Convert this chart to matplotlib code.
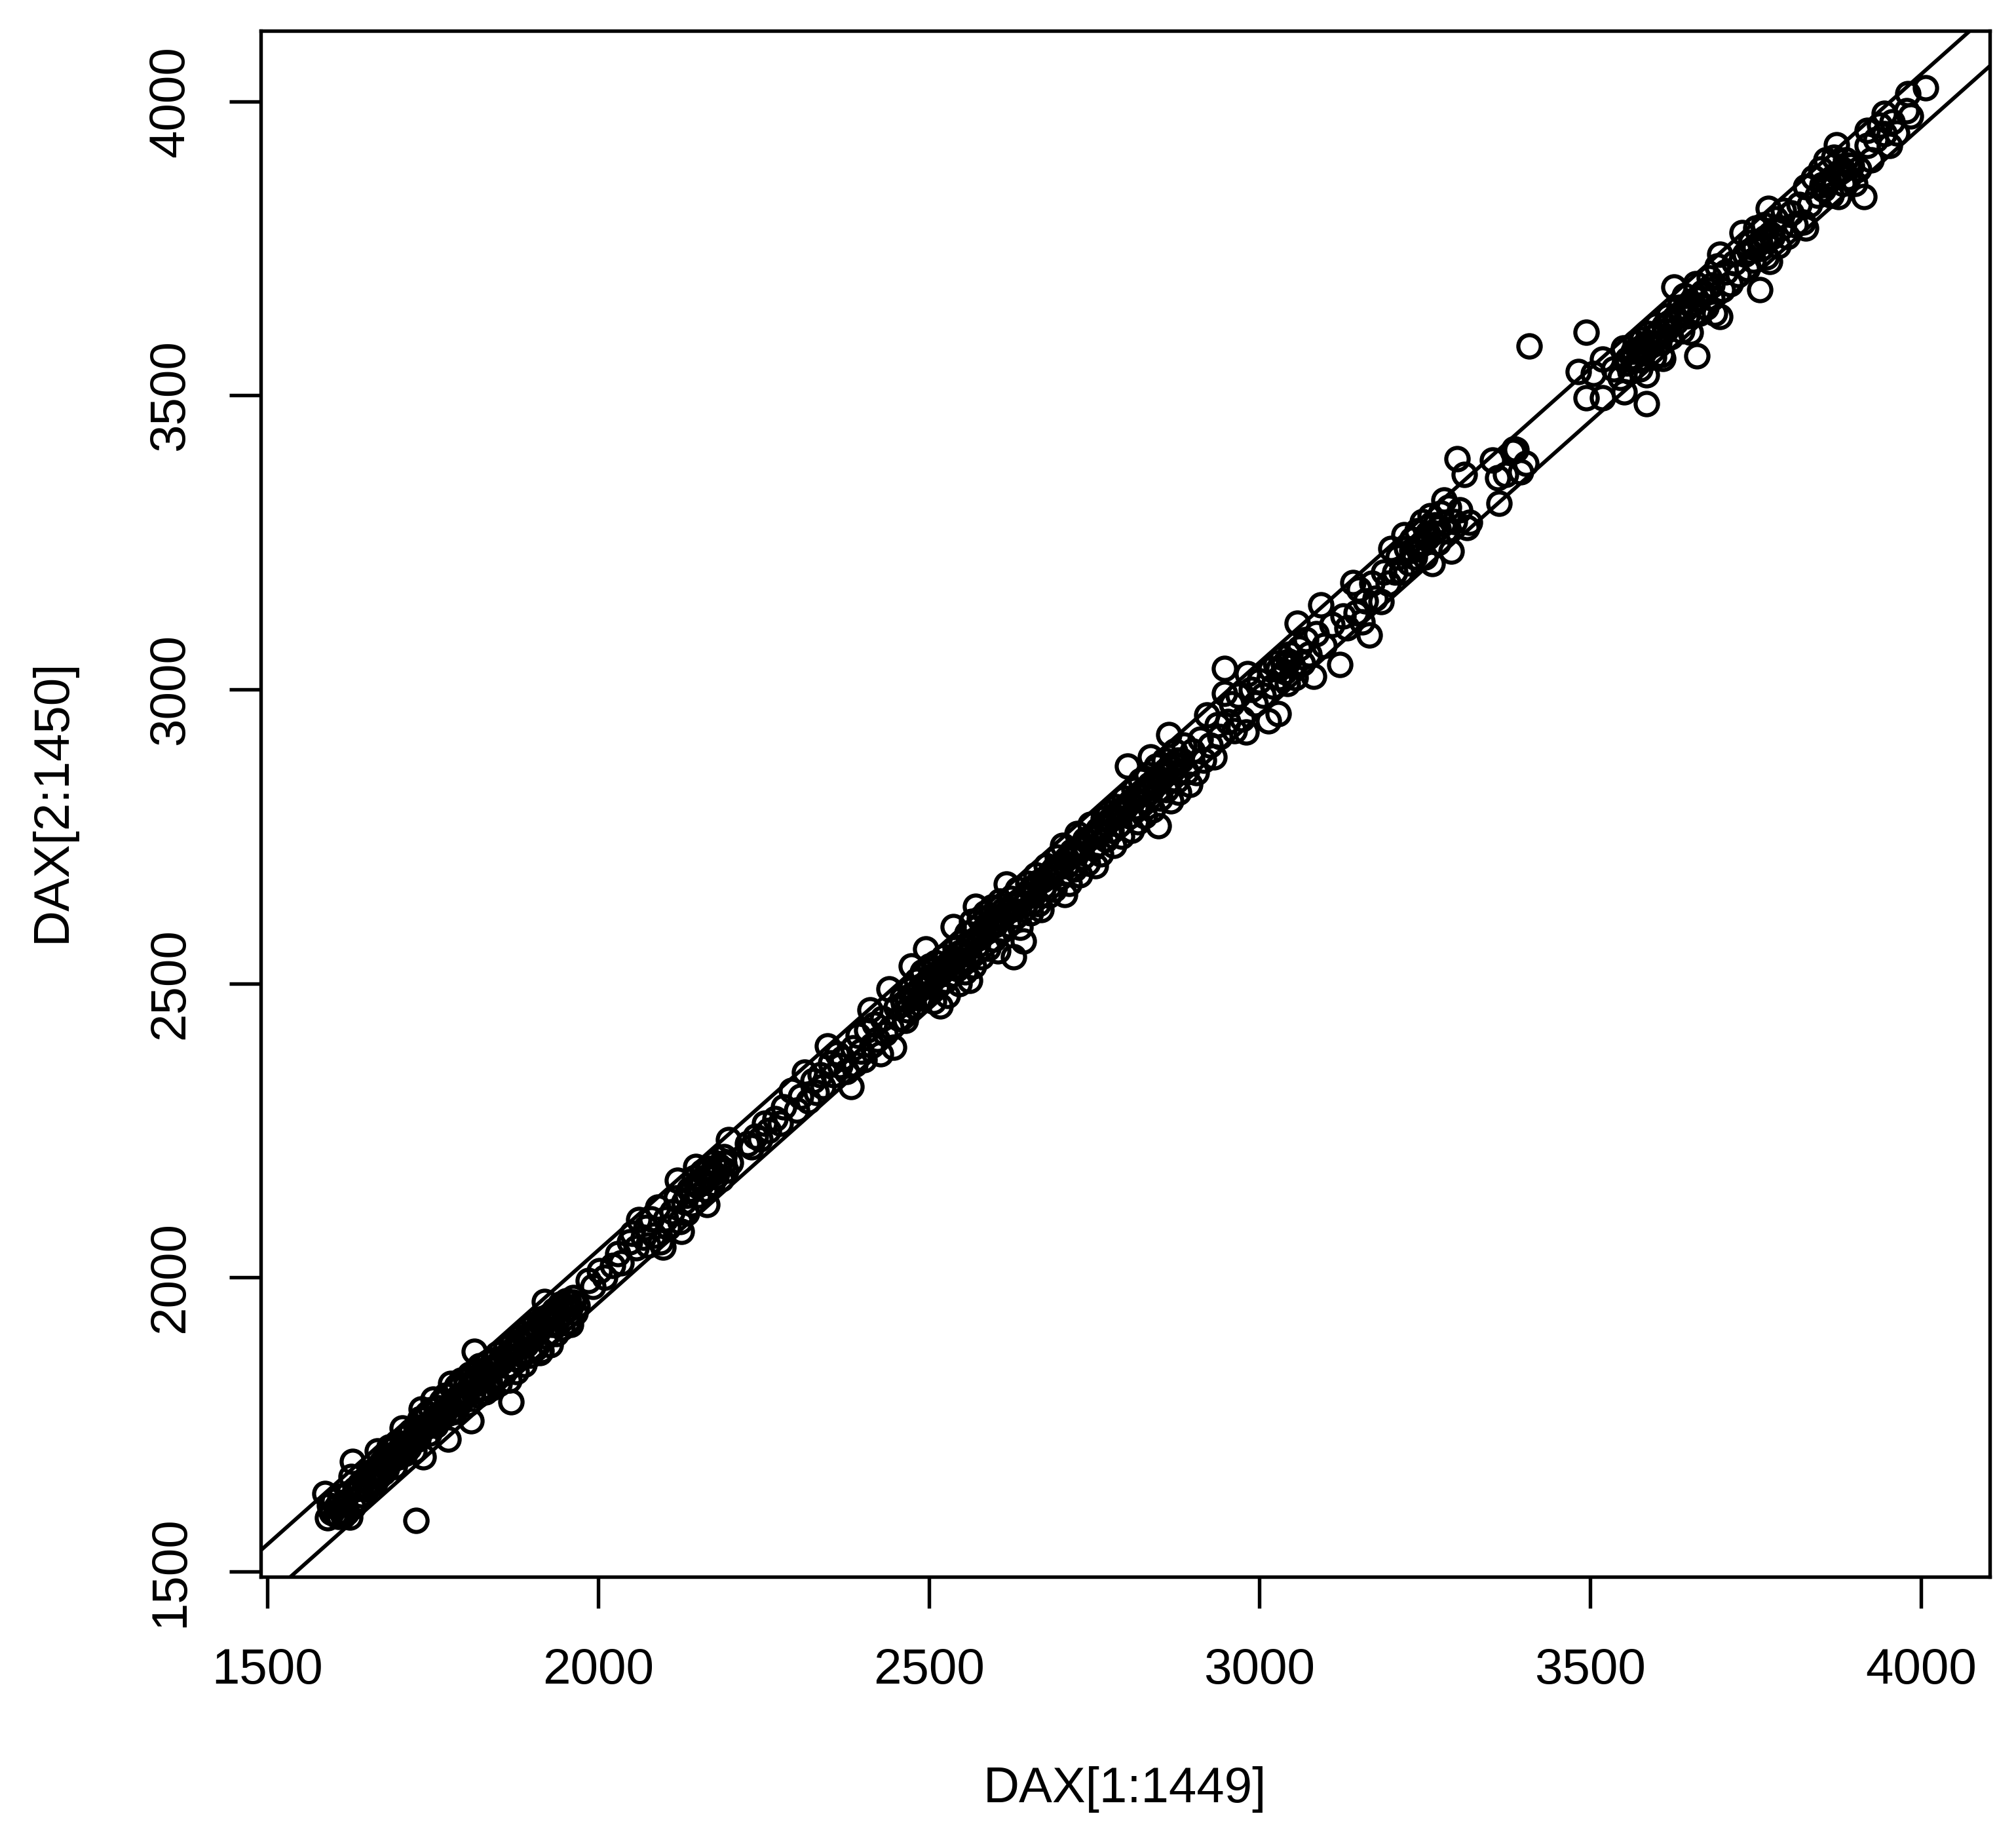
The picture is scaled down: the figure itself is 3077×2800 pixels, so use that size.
import matplotlib
matplotlib.use("Agg")
import matplotlib.pyplot as plt
import numpy as np

W, H = 3077, 2800

# values, (DAX[t], DAX[t+1]), by stretch of the index
seg_1600 = [(1587,1633),(1591,1591),(1594,1612),(1597,1600),(1600,1620),(1603,1597),(1605,1610),(1608,1593),
            (1610,1628),(1612,1603),(1615,1595),(1617,1618),(1620,1600),(1622,1632),(1625,1592),(1627,1661),
            (1629,1687),(1630,1610),(1633,1640),(1636,1622),(1640,1648),(1643,1630),(1646,1655),(1650,1640),
            (1653,1668),(1656,1650),(1660,1672),(1662,1650),(1666,1705),(1668,1662),(1672,1685),(1675,1668),
            (1678,1695),(1680,1675),(1684,1712),(1687,1688),(1690,1708),(1692,1678),(1696,1720),(1699,1695),
            (1702,1712),(1704,1744),(1708,1700),(1711,1730),(1714,1710),(1717,1738),(1720,1722),(1722,1705),
            (1725,1745),(1725,1587),(1728,1725),(1731,1760),(1733,1776),(1736,1695),(1739,1745),(1742,1768),
            (1745,1735),(1748,1775),(1751,1793),(1754,1748),(1757,1778),(1760,1758),(1763,1790),(1766,1765),
            (1769,1800),(1773,1725),(1775,1770),(1777,1820),(1780,1790),(1783,1772),(1786,1815),(1790,1785)]
seg_1800 = [(1793,1825),(1796,1795),(1800,1818),(1803,1785),(1806,1835),(1808,1756),(1811,1805),(1813,1874),
            (1815,1830),(1818,1800),(1821,1850),(1824,1812),(1827,1842),(1830,1805),(1833,1855),(1836,1825),
            (1839,1812),(1842,1860),(1845,1832),(1848,1870),(1851,1820),(1854,1855),(1857,1838),(1860,1880),
            (1863,1850),(1865,1825),(1868,1789),(1870,1890),(1873,1862),(1876,1840),(1879,1898),(1882,1870),
            (1885,1905),(1888,1852),(1891,1885),(1894,1912),(1897,1868),(1900,1895),(1903,1920),(1906,1880),
            (1909,1908),(1912,1872),(1914,1876),(1916,1930),(1919,1959),(1922,1900),(1925,1935),(1928,1885),
            (1931,1920),(1934,1945),(1937,1905),(1940,1930),(1943,1955),(1946,1915),(1949,1940),(1952,1960),
            (1955,1925),(1958,1948),(1959,1920),(1962,1958),(1965,1940),(1968,1952)]
seg_2000 = [(1985,1995),(1992,1985),(2002,2012),(2010,2000),(2022,2020),(2030,2040),(2035,2025),(2048,2060),
            (2052,2075),(2058,2050),(2062,2098),(2068,2068),(2072,2085),(2075,2055),(2080,2100),(2084,2072),
            (2090,2120),(2094,2060),(2098,2052),(2102,2100),(2106,2085),(2112,2112),(2118,2135),(2120,2165),
            (2124,2095),(2126,2078),(2130,2128),(2134,2110),(2138,2150),(2142,2125),(2146,2170),(2148,2189),
            (2152,2140),(2155,2165),(2158,2180),(2162,2150),(2165,2124),(2168,2185),(2172,2160),(2175,2195),
            (2178,2172),(2182,2190),(2186,2168),(2190,2205),(2193,2182),(2197,2234),(2200,2195),(2226,2228),
            (2232,2222),(2238,2240),(2245,2235),(2252,2262),(2258,2250),(2268,2270),(2275,2262),(2280,2290)]
seg_2300 = [(2292,2318),(2300,2285),(2306,2308),(2312,2349),(2318,2300),(2325,2335),(2330,2315),(2336,2345),
            (2340,2325),(2347,2394),(2352,2365),(2356,2345),(2362,2380),(2366,2360),(2370,2372),(2376,2350),
            (2382,2325),(2385,2390),(2388,2362),(2393,2412),(2397,2385),(2402,2370),(2406,2420),(2411,2455),
            (2414,2395),(2418,2430),(2422,2405),(2427,2380),(2430,2440),(2434,2415),(2440,2491),(2443,2425),
            (2447,2392),(2451,2460),(2455,2440),(2460,2475),(2465,2437),(2468,2455),(2472,2490),(2474,2530),
            (2478,2462),(2482,2505),(2486,2475),(2490,2520),(2493,2480),(2495,2559),(2498,2495),(2501,2530),
            (2504,2510),(2507,2470),(2510,2535),(2513,2495),(2517,2462),(2519,2520),(2522,2545),(2525,2505),
            (2528,2480),(2531,2535),(2534,2515),(2537,2596),(2540,2560),(2543,2525),(2546,2500),(2549,2570),
            (2552,2540),(2555,2520),(2558,2585),(2561,2550),(2562,2505),(2565,2605),(2568,2530),(2571,2631),
            (2574,2565),(2577,2610),(2580,2545),(2583,2585),(2586,2620),(2589,2560),(2592,2600),(2595,2630),
            (2598,2575),(2601,2612),(2604,2555),(2607,2640),(2610,2590),(2613,2625),(2617,2669),(2620,2600),
            (2624,2645),(2628,2545),(2631,2615),(2634,2660),(2638,2595),(2643,2572),(2646,2635),(2650,2670),
            (2654,2620),(2658,2650),(2662,2685),(2666,2635),(2670,2625),(2674,2665),(2678,2700),(2682,2650)]
seg_2700 = [(2686,2690),(2690,2660),(2694,2715),(2698,2680),(2702,2735),(2705,2651),(2708,2700),(2712,2670),
            (2716,2725),(2720,2695),(2724,2755),(2728,2685),(2732,2715),(2736,2745),(2740,2705),(2744,2770),
            (2748,2730),(2752,2700),(2756,2755),(2760,2720),(2764,2780),(2768,2745),(2772,2790),(2776,2760),
            (2780,2735),(2784,2800),(2788,2770),(2792,2750),(2796,2815),(2800,2870),(2803,2785),(2806,2760),
            (2810,2830),(2813,2800),(2816,2775),(2820,2845),(2823,2810),(2826,2785),(2830,2855),(2833,2825),
            (2835,2885),(2838,2795),(2841,2840),(2844,2870),(2847,2768),(2850,2815),(2853,2855),(2856,2880),
            (2859,2830),(2863,2923),(2866,2810),(2869,2865),(2872,2895),(2875,2845),(2878,2825),(2882,2880),
            (2886,2905),(2890,2860),(2895,2838),(2899,2895),(2904,2858),(2910,2915),(2915,2880),(2920,2957),
            (2925,2905),(2931,2885),(2936,2940),(2940,2920),(2947,3036),(2947,2993),(2952,2945),(2958,2975)]
seg_3000 = [(2962,2930),(2968,2990),(2974,2950),(2980,2928),(2982,3027),(2988,3000),(2994,2975),(3000,3015),
            (3006,2990),(3013,2947),(3016,3035),(3020,3005),(3024,3045),(3028,2959),(3030,3020),(3034,3055),
            (3038,3030),(3042,3010),(3046,3060),(3050,3040),(3054,3020),(3057,3112),(3060,3070),(3065,3045),
            (3070,3085),(3075,3060),(3082,3022),(3086,3095),(3093,3144),(3098,3075),(3110,3110),(3121,3042),
            (3126,3125),(3132,3105),(3141,3182),(3146,3130),(3150,3170),(3155,3115),(3160,3150),(3166,3093),
            (3170,3180),(3175,3155),(3184,3149),(3188,3200),(3195,3180),(3199,3240),(3205,3200),(3210,3225),
            (3215,3200),(3218,3263),(3222,3240),(3226,3215),(3230,3255),(3234,3225),(3238,3270),(3242,3245),
            (3246,3285),(3250,3225),(3254,3265),(3258,3295),(3261,3214),(3265,3280),(3270,3250),(3274,3300),
            (3279,3322),(3282,3270),(3286,3310),(3290,3235),(3295,3285),(3299,3392),(3303,3305),(3310,3365),
            (3314,3275),(3318,3284)]
seg_3350 = [(3352,3390),(3360,3360),(3362,3316),(3372,3365),(3383,3405),(3385,3409),(3388,3408),(3395,3370),
            (3403,3385),(3408,3584),(3482,3540),(3494,3607),(3494,3496),(3505,3537),(3519,3496),(3519,3562),
            (3535,3545),(3545,3530),(3550,3581),(3551,3506),(3555,3555),(3560,3540),(3565,3575),(3568,3590),
            (3572,3560),(3575,3545),(3578,3595),(3582,3575),(3585,3535),(3585,3486),(3588,3605),(3592,3585),
            (3596,3565),(3600,3620),(3604,3590),(3608,3570),(3610,3563),(3614,3610),(3618,3635),(3622,3600),
            (3627,3684),(3630,3625),(3634,3650),(3638,3610),(3642,3670),(3646,3635),(3651,3607),(3655,3655),
            (3659,3690),(3661,3567),(3665,3640),(3670,3675),(3675,3650),(3680,3700),(3684,3665),(3688,3640),
            (3692,3720),(3696,3634),(3696,3740),(3700,3680),(3705,3710)]
seg_3700 = [(3712,3690),(3718,3725),(3724,3705),(3730,3777),(3734,3740),(3738,3715),(3742,3760),(3746,3730),
            (3750,3785),(3756,3680),(3758,3750),(3762,3790),(3766,3735),(3769,3818),(3771,3728),(3775,3770),
            (3780,3800),(3784,3755),(3788,3785),(3792,3815),(3798,3770),(3804,3810),(3810,3790),(3816,3825),
            (3822,3795),(3826,3785),(3826,3855),(3832,3825),(3838,3870),(3843,3840),(3848,3885),(3852,3850),
            (3856,3900),(3860,3865),(3864,3840),(3868,3905),(3872,3926),(3875,3838),(3878,3880),(3882,3860),
            (3886,3900),(3890,3870),(3895,3890),(3900,3860),(3906,3885),(3914,3838),(3919,3951),(3919,3925),
            (3925,3900),(3932,3935),(3938,3960),(3945,3980),(3945,3945),(3952,3925),(3956,3965),(3963,3946),
            (3978,3984),(3980,4013),(3984,3975),(4007,4023)]
# points inside the solid stretches of the cloud
solid_low = [(1640,1642),(1648,1646),(1655,1662),(1664,1670),(1670,1672),(1682,1690),(1688,1698),(1694,1698),
             (1700,1704),(1706,1716),(1712,1720),(1718,1722),(1724,1730),(1730,1734),(1735,1744),(1741,1748),
             (1747,1752),(1752,1762),(1758,1764),(1764,1772),(1770,1776),(1776,1782),(1782,1790),(1788,1796),
             (1794,1800),(1800,1804),(1806,1814),(1812,1818),(1818,1826),(1824,1830),(1830,1834),(1836,1844),
             (1842,1846),(1848,1852),(1854,1862),(1860,1864),(1866,1874),(1872,1876),(1878,1882),(1884,1890),
             (1890,1896),(1896,1902),(1902,1906),(1908,1914),(1914,1920),(1920,1924),(1926,1932),(1932,1934),
             (1938,1942),(1944,1950),(1950,1952),(1956,1958),(1962,1966)]
solid_mid = [(2134,2140),(2142,2148),(2150,2156),(2158,2162),(2166,2172),(2174,2178),(2182,2184),(2190,2194),
             (2462,2466),(2468,2472),(2474,2480),(2480,2482),(2486,2492),(2492,2496),(2498,2504),(2504,2504),
             (2510,2516),(2516,2520),(2522,2526),(2528,2532),(2534,2540),(2540,2542),(2546,2552),(2552,2554),
             (2558,2562),(2564,2570),(2570,2574),(2576,2578),(2582,2590),(2588,2590),(2594,2600),(2600,2600),
             (2606,2612),(2612,2616),(2618,2622),(2624,2626),(2630,2636),(2636,2640),(2642,2646),(2648,2650),
             (2654,2660),(2660,2662),(2666,2672),(2672,2676),(2678,2680),(2684,2688),(2690,2696),(2696,2698),
             (2702,2706),(2708,2712),(2714,2718),(2720,2724),(2726,2730),(2732,2734),(2738,2744),(2744,2748),
             (2750,2752),(2756,2762),(2762,2766),(2768,2772),(2774,2778),(2780,2784),(2786,2790),(2792,2796),
             (2798,2802),(2804,2808),(2810,2814),(2816,2820),(2822,2826),(2828,2832),(2834,2838),(2840,2844),
             (2846,2850),(2852,2856),(2858,2862),(2864,2868),(2870,2874),(2876,2880)]
solid_high = [(3028,3034),(3036,3042),(3044,3048),(3230,3236),(3238,3242),(3246,3250),(3254,3258),(3262,3266),
              (3270,3274),(3278,3282),(3556,3562),(3564,3566),(3572,3578),(3580,3584),(3588,3590),(3596,3600),
              (3604,3608),(3612,3618),(3620,3624),(3628,3632),(3636,3640),(3644,3648),(3652,3656),(3660,3664),
              (3668,3672),(3676,3680),(3684,3688),(3740,3745),(3748,3752),(3756,3760),(3764,3768),(3772,3775),
              (3850,3858),(3858,3862),(3866,3870),(3874,3878),(3882,3884),(3890,3892)]

# the two guide lines, y = x + intercept
band_intercepts = [46, -44]

x_ticks = [1500, 2000, 2500, 3000, 3500, 4000]
y_ticks = [1500, 2000, 2500, 3000, 3500, 4000]
x_lim = (1490, 4104)
y_lim = (1491, 4120)

points = np.array(seg_1600 + seg_1800 + seg_2000 + seg_2300 + seg_2700 + seg_3000 + seg_3350 + seg_3700
                  + solid_low + solid_mid + solid_high)

plt.rcParams['font.family'] = ['Liberation Sans', 'DejaVu Sans']

fig = plt.figure(figsize=(W / 300, H / 300), dpi=300)
ax = fig.add_axes([398 / W, 1 - 2406 / H, (3037 - 398) / W, (2406 - 47) / H])

for b in band_intercepts:
    ax.axline((2500, 2500 + b), slope=1, color='black', lw=1.4)

ax.plot(points[:, 0], points[:, 1], 'o', mfc='none', mec='black', ms=8.2, mew=1.5)

ax.set_xlim(x_lim)
ax.set_ylim(y_lim)
ax.set_xticks(x_ticks)
ax.set_yticks(y_ticks)
ax.tick_params(axis='both', length=11.5, width=1.3, labelsize=18.3)
ax.tick_params(axis='x', pad=14.5)
ax.tick_params(axis='y', pad=13)
for t in ax.get_yticklabels():
    t.set_rotation(90)
    t.set_va('center')
for s in ax.spines.values():
    s.set_linewidth(1.3)

fig.text(1717 / W, 1 - 2731 / H, 'DAX[1:1449]', fontsize=18.3, ha='center', va='center')
fig.text(80 / W, 1 - 1222 / H, 'DAX[2:1450]', fontsize=18.3, ha='center', va='center', rotation=90)

fig.savefig('out.png', dpi=300)
